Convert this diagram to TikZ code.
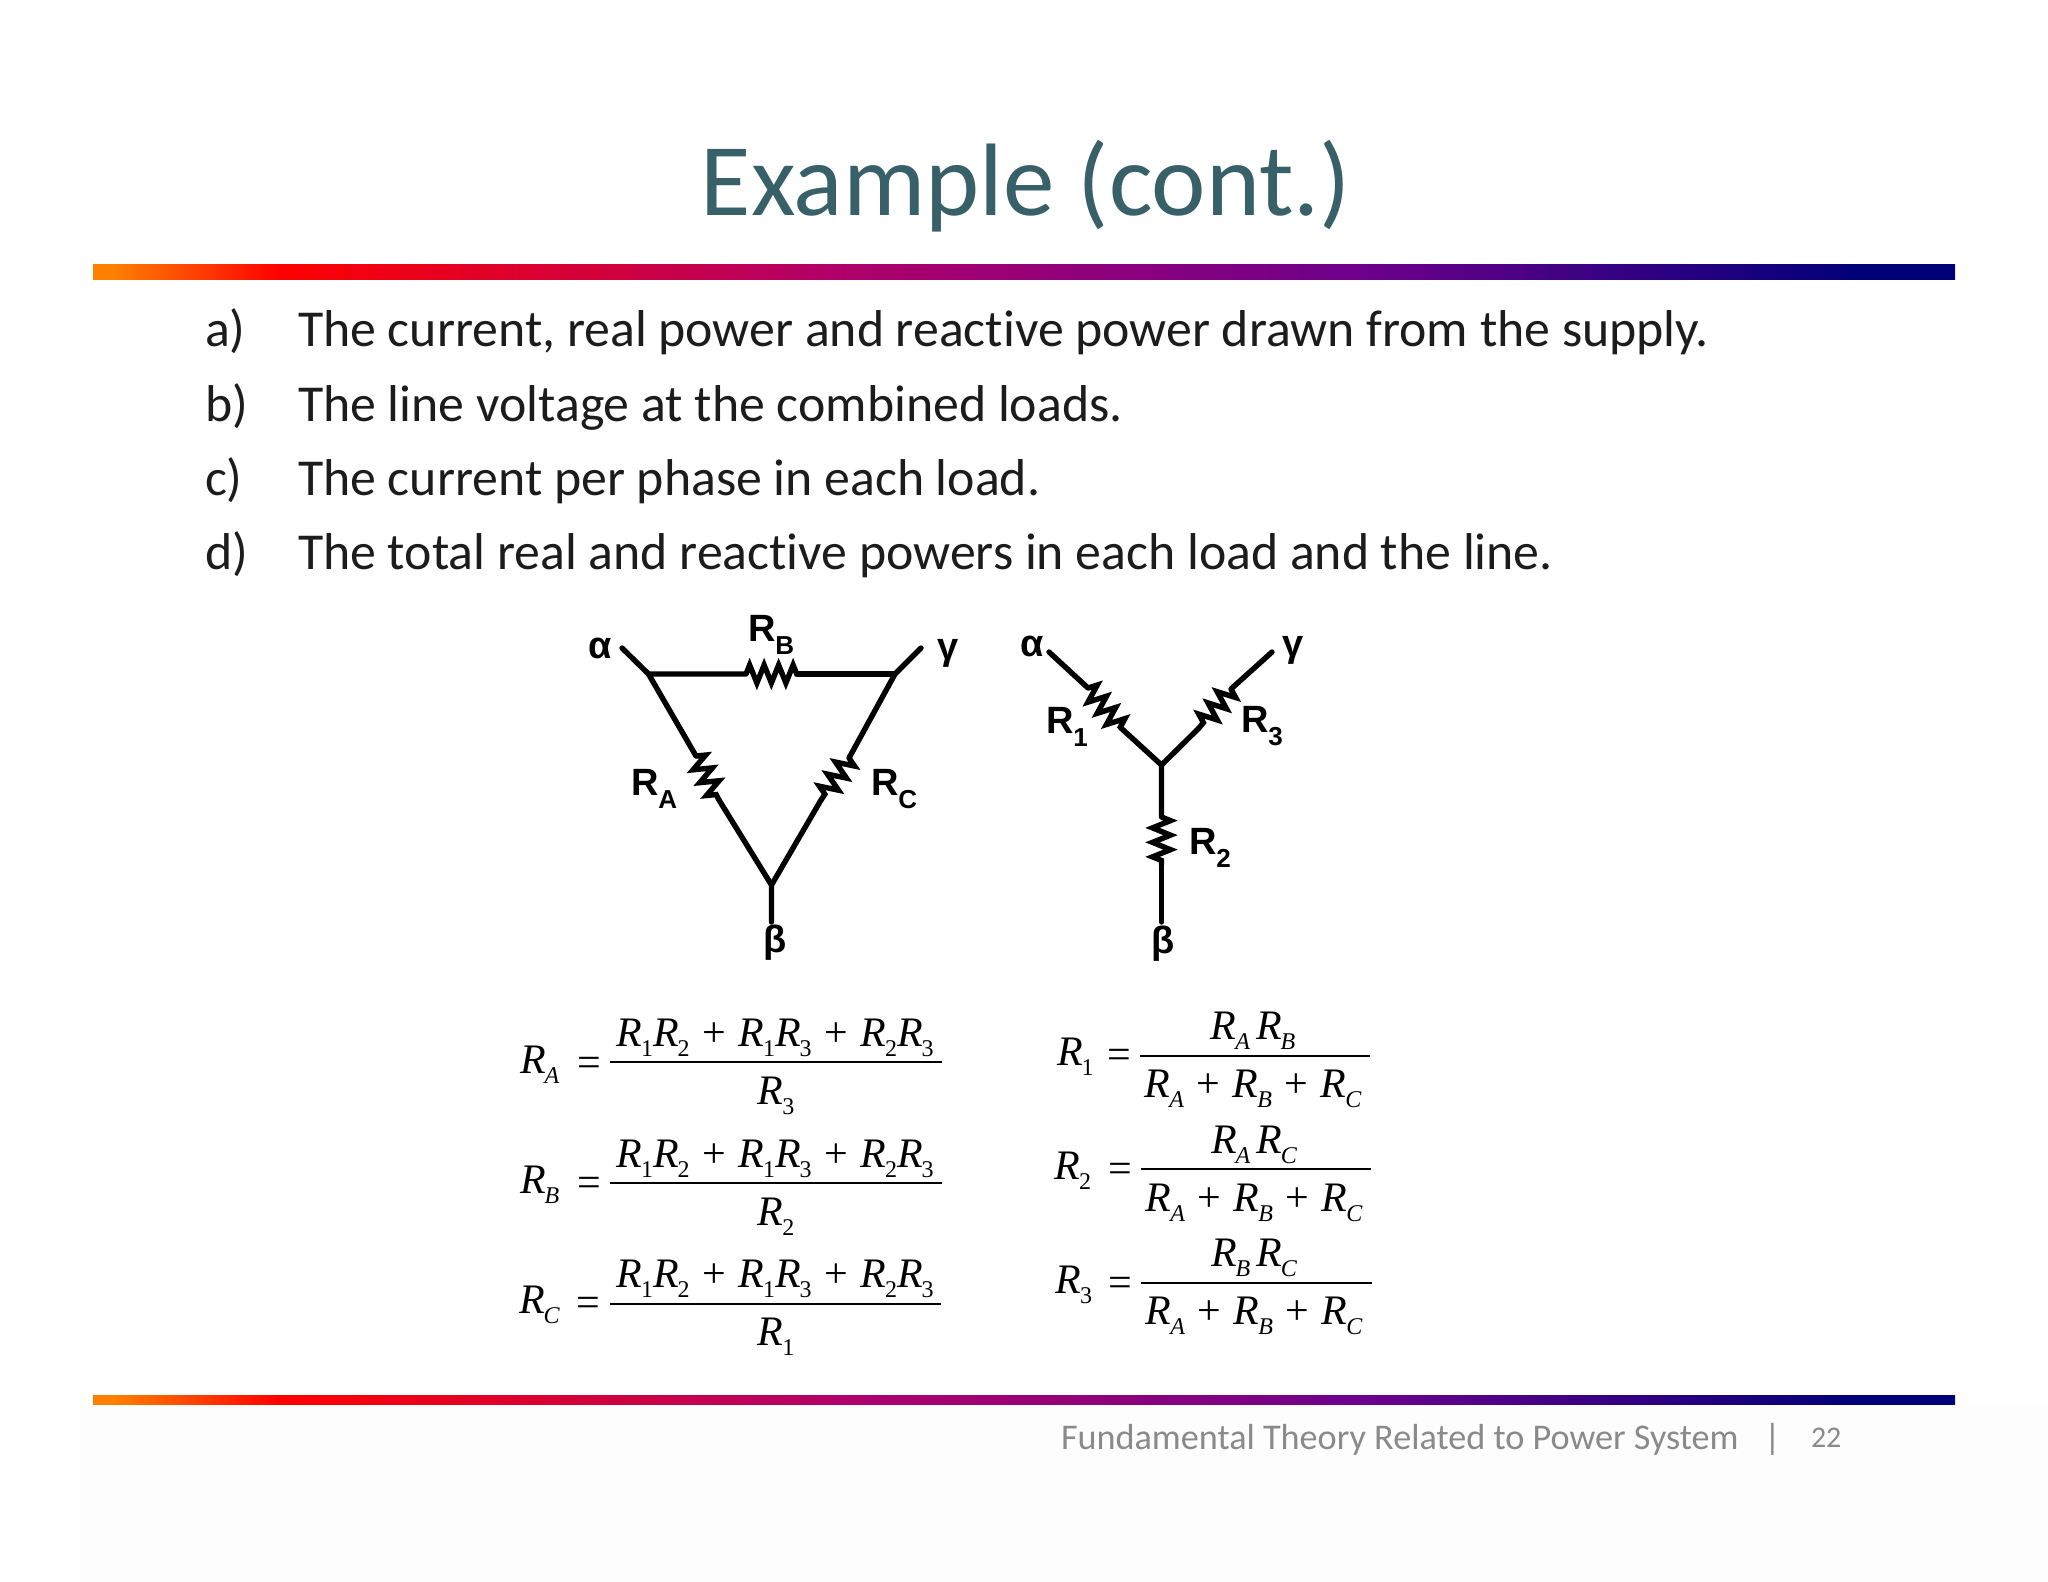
\documentclass[tikz,border=0pt]{standalone}
\usepackage{fontspec}
\setmainfont{Carlito}[Ligatures=NoCommon]
\newfontfamily\arialf{Liberation Sans}
\newfontfamily\timesf{Liberation Serif}
\usetikzlibrary{decorations.pathmorphing}
\definecolor{titlecol}{HTML}{376068}
\definecolor{bodycol}{HTML}{1C1C1C}
\definecolor{footcol}{HTML}{8A8A8A}
\definecolor{barorange}{HTML}{FF8000}
\definecolor{barred}{HTML}{FF0000}
\definecolor{barmid}{HTML}{B0006A}
\definecolor{barpurple}{HTML}{6E008C}
\definecolor{barnavy}{HTML}{000078}
\pgfdeclarehorizontalshading{barshade}{100bp}{
  color(0bp)=(barorange);
  color(25.5bp)=(barorange);
  color(30bp)=(barred);
  color(45bp)=(barmid);
  color(59bp)=(barpurple);
  color(72.5bp)=(barnavy);
  color(100bp)=(barnavy)}
\newcommand{\Rnum}[1]{{\itshape R}\kern-1pt\raisebox{-10pt}{\fontsize{24}{24}\selectfont #1}}
\newcommand{\Rlet}[1]{{\itshape R}\kern-1pt\raisebox{-10pt}{\fontsize{24}{24}\selectfont\itshape #1}}
\newcommand{\plusop}{\kern12.5pt+\kern12.5pt}
\newcommand{\eqop}{\raisebox{-3pt}{=}}
\newcommand{\numsum}{\Rnum{1}\Rnum{2}\plusop\Rnum{1}\Rnum{3}\plusop\Rnum{2}\Rnum{3}}
\newcommand{\densum}{\Rlet{A}\plusop\Rlet{B}\plusop\Rlet{C}}
\tikzset{
  txt/.style={inner sep=0pt,outer sep=0pt,anchor=base west},
  titletxt/.style={inner sep=0pt,anchor=base,text=titlecol,font=\fontsize{103}{110}\selectfont},
  bodytxt/.style={txt,text=bodycol,font=\fontsize{51.8}{56}\selectfont},
  foottxt/.style={txt,text=footcol,font=\fontsize{36.2}{40}\selectfont},
  circtxt/.style={txt,text=black,font=\arialf\bfseries\fontsize{38}{42}\selectfont},
  greektxt/.style={inner sep=0pt,anchor=center,text=black,font=\arialf\bfseries\fontsize{38}{42}\selectfont},
  eqtxt/.style={inner sep=0pt,outer sep=0pt,anchor=base,text=black,font=\timesf\fontsize{42}{46}\selectfont},
  eqleft/.style={eqtxt,anchor=base west},
  wire/.style={draw=black,line width=5.4pt,line cap=round,line join=miter},
  zig/.style={wire,line cap=butt,decorate,decoration={zigzag,segment length=14.5pt,amplitude=9pt}},
  fracrule/.style={draw=black,line width=1.6pt},
}
\begin{document}
\begin{tikzpicture}[x=1pt,y=-1pt]
\useasboundingbox (0,0) rectangle (2048,1582);
\fill[white] (0,0) rectangle (2048,1582);
\fill[black!0.7] (80,1404) rectangle (2048,1582);
% title and bars
\node[titletxt] (title) at (1026,215) {Example (cont.)};
\shade[shading=barshade] (93,264) rectangle (1955,279);
\shade[shading=barshade] (93,1395) rectangle (1955,1404);
% list
\node[bodytxt] (la) at (205,346) {a)};
\node[bodytxt] (ta) at (298,346) {The current, real power and reactive power drawn from the supply.};
\node[bodytxt] (lb) at (205,421) {b)};
\node[bodytxt] (tb) at (298,421) {The line voltage at the combined loads.};
\node[bodytxt] (lc) at (205,495) {c)};
\node[bodytxt] (tc) at (298,495) {The current per phase in each load.};
\node[bodytxt] (ld) at (205,569.5) {d)};
\node[bodytxt] (td) at (298,569.5) {The total real and reactive powers in each load and the line.};
% delta
\coordinate (da) at (648.5,674);
\coordinate (dg) at (895,674);
\coordinate (db) at (771.5,885);
\coordinate (dta) at (622,648);
\coordinate (dtg) at (921,648);
\coordinate (dtb) at (771.5,922);
\coordinate (rb1) at (746,674);
\coordinate (rb2) at (797.5,674);
\coordinate (ra1) at (696,756);
\coordinate (ra2) at (719,800);
\coordinate (rc1) at (849,758);
\coordinate (rc2) at (821,800);
\draw[wire] (dta) -- (da) -- (rb1);
\draw[zig] (rb1) -- (rb2);
\draw[wire] (rb2) -- (dg);
\draw[wire] (dtg) -- (dg) -- (rc1);
\draw[zig] (rc1) -- (rc2);
\draw[wire] (rc2) -- (db);
\draw[wire] (da) -- (ra1);
\draw[zig] (ra1) -- (ra2);
\draw[wire] (ra2) -- (db) -- (dtb);
\node[greektxt] (dalpha) at (600,648) {α};
\node[greektxt] (dgamma) at (948,653) {γ};
\node[greektxt] (dbeta) at (775.5,943) {β};
\node[circtxt] (drb) at (748,641) {R\raisebox{-13pt}{\fontsize{26}{26}\selectfont B}};
\node[circtxt] (dra) at (631,795) {R\raisebox{-13pt}{\fontsize{26}{26}\selectfont A}};
\node[circtxt] (drc) at (871,795) {R\raisebox{-13pt}{\fontsize{26}{26}\selectfont C}};
% wye
\coordinate (yc) at (1161.5,765);
\coordinate (yta) at (1049,652);
\coordinate (ytg) at (1272,652);
\coordinate (ytb) at (1161.5,922);
\coordinate (r11) at (1088,688);
\coordinate (r12) at (1121,728);
\coordinate (r31) at (1231,689);
\coordinate (r32) at (1199,728);
\coordinate (r21) at (1161.5,817);
\coordinate (r22) at (1161.5,865);
\draw[wire] (yta) -- (r11);
\draw[zig] (r11) -- (r12);
\draw[wire] (r12) -- (yc) -- (r21);
\draw[zig] (r21) -- (r22);
\draw[wire] (r22) -- (ytb);
\draw[wire] (ytg) -- (r31);
\draw[zig] (r31) -- (r32);
\draw[wire] (r32) -- (yc);
\node[greektxt] (yalpha) at (1032,646) {α};
\node[greektxt] (ygamma) at (1293,650) {γ};
\node[greektxt] (ybeta) at (1163,944) {β};
\node[circtxt] (yr1) at (1046,733) {R\raisebox{-13pt}{\fontsize{26}{26}\selectfont 1}};
\node[circtxt] (yr3) at (1241,732) {R\raisebox{-13pt}{\fontsize{26}{26}\selectfont 3}};
\node[circtxt] (yr2) at (1189,854) {R\raisebox{-13pt}{\fontsize{26}{26}\selectfont 2}};
% left equations
\node[eqleft] (la1) at (520,1073) {\Rlet{A}\kern18pt\eqop};
\node[eqtxt] (ln1) at (775,1046) {\numsum};
\coordinate (lr1a) at (610,1062); \coordinate (lr1b) at (942,1062);
\draw[fracrule] (lr1a) -- (lr1b);
\node[eqtxt] (ld1) at (776,1104) {\Rnum{3}};
\node[eqleft] (la2) at (520,1193) {\Rlet{B}\kern18pt\eqop};
\node[eqtxt] (ln2) at (775,1167) {\numsum};
\coordinate (lr2a) at (610,1183); \coordinate (lr2b) at (942,1183);
\draw[fracrule] (lr2a) -- (lr2b);
\node[eqtxt] (ld2) at (776,1225) {\Rnum{2}};
\node[eqleft] (la3) at (519,1313) {\Rlet{C}\kern17pt\eqop};
\node[eqtxt] (ln3) at (775,1287) {\numsum};
\coordinate (lr3a) at (609.5,1304); \coordinate (lr3b) at (941,1304);
\draw[fracrule] (lr3a) -- (lr3b);
\node[eqtxt] (ld3) at (776,1345) {\Rnum{1}};
% right equations
\node[eqleft] (ra1t) at (1057,1065) {\Rnum{1}\kern14pt\eqop};
\node[eqtxt] (rn1) at (1253,1039) {\Rlet{A}\kern6pt\Rlet{B}};
\coordinate (rr1a) at (1140,1056); \coordinate (rr1b) at (1370,1056);
\draw[fracrule] (rr1a) -- (rr1b);
\node[eqtxt] (rd1) at (1253,1097) {\densum};
\node[eqleft] (ra2t) at (1054.5,1179) {\Rnum{2}\kern17pt\eqop};
\node[eqtxt] (rn2) at (1254,1153) {\Rlet{A}\kern6pt\Rlet{C}};
\coordinate (rr2a) at (1141,1169); \coordinate (rr2b) at (1371,1169);
\draw[fracrule] (rr2a) -- (rr2b);
\node[eqtxt] (rd2) at (1254,1211) {\densum};
\node[eqleft] (ra3t) at (1055.5,1293) {\Rnum{3}\kern16pt\eqop};
\node[eqtxt] (rn3) at (1254,1266) {\Rlet{B}\kern6pt\Rlet{C}};
\coordinate (rr3a) at (1141,1283); \coordinate (rr3b) at (1372,1283);
\draw[fracrule] (rr3a) -- (rr3b);
\node[eqtxt] (rd3) at (1254,1324) {\densum};
% footer
\node[foottxt] (ft) at (1061,1449) {Fundamental Theory Related to Power System};
\node[foottxt] (fb) at (1764,1449) {|};
\node[foottxt,font=\fontsize{30}{34}\selectfont] (fn) at (1811,1447) {22};
\end{tikzpicture}
\end{document}
